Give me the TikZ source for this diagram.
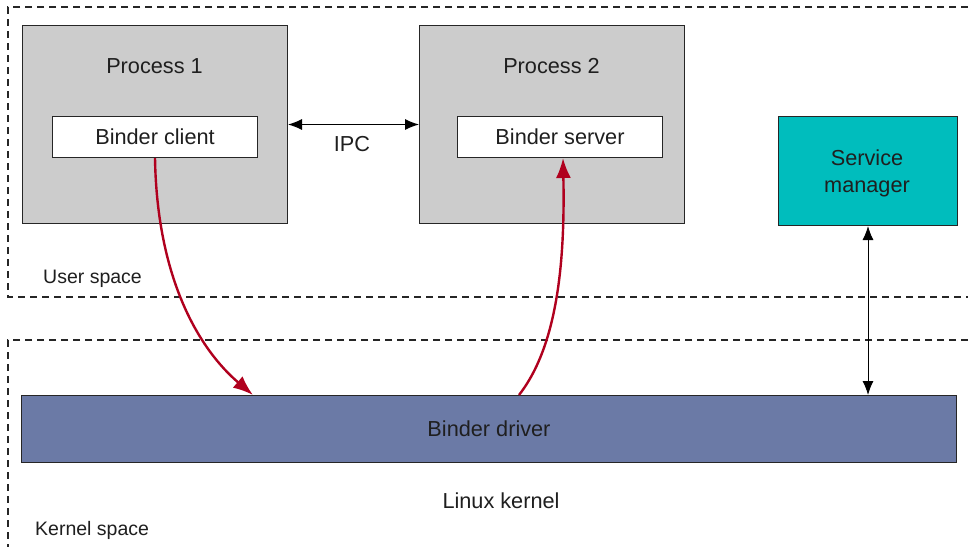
\documentclass[tikz,border=0pt]{standalone}
\usepackage{fontspec}
\setmainfont{Liberation Sans}
\usetikzlibrary{arrows.meta,calc}
\definecolor{procgray}{HTML}{CCCCCC}
\definecolor{smteal}{HTML}{00BDBD}
\definecolor{drvblue}{HTML}{6B7AA6}
\definecolor{flowred}{HTML}{B0001E}
\begin{document}
\begin{tikzpicture}[x=1pt,y=-1pt,
  box/.style={draw=black!85, line width=1pt, anchor=north west, inner sep=0pt},
  big/.style={font=\fontsize{21.7}{27}\selectfont, text=black!88},
  small/.style={font=\fontsize{19.5}{23}\selectfont, text=black!88},
  spaceline/.style={draw=black!85, line width=1.2pt, dash pattern=on 7pt off 5pt},
  dbl/.style={draw=black, line width=1pt, {Latex[length=14pt,width=11pt]}-{Latex[length=14pt,width=11pt]}},
  flow/.style={draw=flowred, line width=2.4pt, -{Latex[length=20pt,width=15pt]}}]
\useasboundingbox (0,0) rectangle (968,547);
\fill[white] (0,0) rectangle (968,547);

% user space and kernel space outlines
\draw[spaceline] (968,7) -- (8,7) -- (8,297) -- (968,297);
\draw[spaceline] (968,340) -- (8,340) -- (8,547);

% processes
\node[box, fill=procgray, minimum width=265pt, minimum height=198pt] (p1) at (22,25) {};
\node[big] (p1t) at (154.5,66) {Process 1};
\node[box, fill=white, minimum width=205pt, minimum height=41pt, big] (bc) at (52,116) {Binder client};

\node[box, fill=procgray, minimum width=265pt, minimum height=198pt] (p2) at (419,25) {};
\node[big] (p2t) at (551.5,66) {Process 2};
\node[box, fill=white, minimum width=205pt, minimum height=41pt, big] (bs) at (457,116) {Binder server};

% service manager
\node[box, fill=smteal, minimum width=179pt, minimum height=109pt, big, align=center] (sm) at (778,116) {};
\node[big, align=center] (smt) at (867,173) {Service\\manager};

% binder driver
\node[box, fill=drvblue, minimum width=935pt, minimum height=67pt, big] (drv) at (21,395) {Binder driver};

% labels
\node[small, anchor=base west, inner sep=0pt] (us) at (43,283) {User space};
\node[small, anchor=base west, inner sep=0pt] (ks) at (35,535) {Kernel space};
\node[big] (lk) at (501,501) {Linux kernel};
\node[big] (ipc) at (352,144) {IPC};

% connectors
\draw[dbl] (p1) -- (p2);
\draw[dbl] (sm.south) -- (sm.south |- drv.north);

\coordinate (din) at (253,395);
\coordinate (dout) at (519,395);
\draw[flow] (bc.south) .. controls (157,280) and (200,350) .. (din);
\draw[flow] (dout) .. controls (558,345) and (565,260) .. ([xshift=3pt]bs.south);
\end{tikzpicture}
\end{document}
